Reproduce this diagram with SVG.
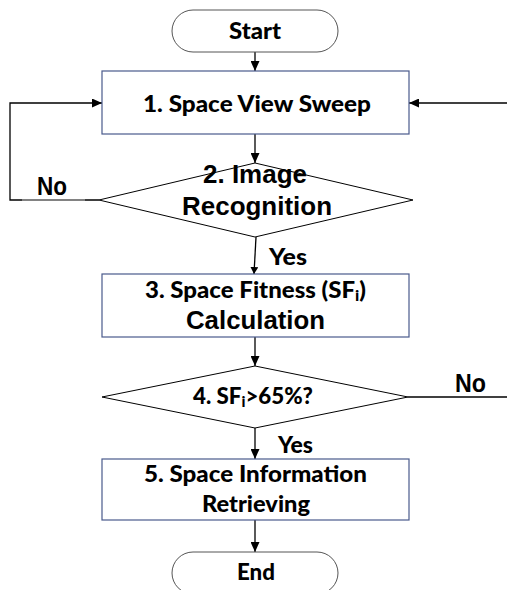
<svg xmlns="http://www.w3.org/2000/svg" width="507" height="590" viewBox="0 0 507 590">
  <defs>
    <marker id="arrow" markerWidth="10" markerHeight="9" refX="10" refY="4.5" orient="auto" markerUnits="userSpaceOnUse">
      <path d="M0,0 L10,4.5 L0,9 Z" fill="#000"/>
    </marker>
    <marker id="arrowSmall" markerWidth="7" markerHeight="8" refX="7" refY="4" orient="auto" markerUnits="userSpaceOnUse">
      <path d="M0,0 L7,4 L0,8 Z" fill="#000"/>
    </marker>
    <style>
      .term { fill: #fff; stroke: #555; stroke-width: 1; }
      .proc { fill: #fff; stroke: #4a5a8c; stroke-width: 1.2; }
      .dec { fill: #fff; stroke: #000; stroke-width: 1; }
      .conn { fill: none; stroke: #000; stroke-width: 1.3; }
      .cal { font-family: Lato, "Open Sans", "Liberation Sans", sans-serif; font-weight: 900; font-size: 22px; fill: #000; }
      .ari { font-family: "Liberation Sans", Arial, sans-serif; font-weight: bold; font-size: 25px; fill: #000; }
    </style>
  </defs>

  <rect width="507" height="590" fill="#fff"/>

  <g id="connectors">
    <line class="conn" x1="255" y1="52" x2="255" y2="71" marker-end="url(#arrow)"/>
    <line class="conn" x1="255" y1="134" x2="255" y2="163" marker-end="url(#arrow)"/>
    <polyline class="conn" points="99,200 10,200 10,103 102,103" marker-end="url(#arrow)"/>
    <line x1="22" y1="200" x2="85" y2="200" stroke="#9a9a9a" stroke-width="1.3"/>
    <line class="conn" x1="507" y1="103" x2="409" y2="103" marker-end="url(#arrow)"/>
    <line class="conn" x1="256" y1="237" x2="254" y2="274" marker-end="url(#arrowSmall)"/>
    <line class="conn" x1="255" y1="337" x2="255" y2="366" marker-end="url(#arrow)"/>
    <line class="conn" x1="408" y1="397" x2="507" y2="397"/>
    <line class="conn" x1="255" y1="428" x2="255" y2="459" marker-end="url(#arrow)"/>
    <line class="conn" x1="255" y1="520" x2="255" y2="552" marker-end="url(#arrow)"/>
    <text class="ari" x="37" y="195" font-size="23" textLength="30" lengthAdjust="spacingAndGlyphs">No</text>
    <text class="cal" x="269" y="265" textLength="38" lengthAdjust="spacingAndGlyphs">Yes</text>
    <text class="ari" x="455" y="392" font-size="23" textLength="31" lengthAdjust="spacingAndGlyphs">No</text>
    <text class="cal" x="278" y="453" textLength="35" lengthAdjust="spacingAndGlyphs">Yes</text>
  </g>

  <g id="start">
    <rect class="term" x="172" y="10" width="166" height="42" rx="21" ry="21"/>
    <text class="cal" x="229" y="39" textLength="52" lengthAdjust="spacingAndGlyphs">Start</text>
  </g>

  <g id="step1">
    <rect class="proc" x="102" y="71" width="307" height="63"/>
    <text class="cal" x="143" y="112" textLength="228" lengthAdjust="spacingAndGlyphs">1. Space View Sweep</text>
  </g>

  <g id="step2">
    <polygon class="dec" points="99,200 255,163 413,200 255,237"/>
    <text class="ari" x="203" y="183" font-size="26" textLength="104" lengthAdjust="spacingAndGlyphs">2. Image</text>
    <text class="ari" x="182" y="215" font-size="26" textLength="150" lengthAdjust="spacingAndGlyphs">Recognition</text>
  </g>

  <g id="step3">
    <rect class="proc" x="102" y="274" width="307" height="63"/>
    <text class="cal" x="145" y="298" textLength="221" lengthAdjust="spacingAndGlyphs">3. Space Fitness (SF<tspan font-size="15" dy="3">i</tspan><tspan dy="-3">)</tspan></text>
    <text class="ari" x="186" y="329" textLength="139" lengthAdjust="spacingAndGlyphs">Calculation</text>
  </g>

  <g id="step4">
    <polygon class="dec" points="102,397 255,366 408,397 255,428"/>
    <text class="cal" x="193" y="404" textLength="120" lengthAdjust="spacingAndGlyphs">4. SF<tspan font-size="15" dy="3">i</tspan><tspan dy="-3">&gt;65%?</tspan></text>
  </g>

  <g id="step5">
    <rect class="proc" x="102" y="459" width="307" height="61"/>
    <text class="cal" x="144" y="482" textLength="223" lengthAdjust="spacingAndGlyphs">5. Space Information</text>
    <text class="cal" x="202" y="512" textLength="108" lengthAdjust="spacingAndGlyphs">Retrieving</text>
  </g>

  <g id="end">
    <rect class="term" x="172" y="552" width="166" height="42" rx="21" ry="21"/>
    <text class="cal" x="237" y="580" textLength="38" lengthAdjust="spacingAndGlyphs">End</text>
  </g>
</svg>
